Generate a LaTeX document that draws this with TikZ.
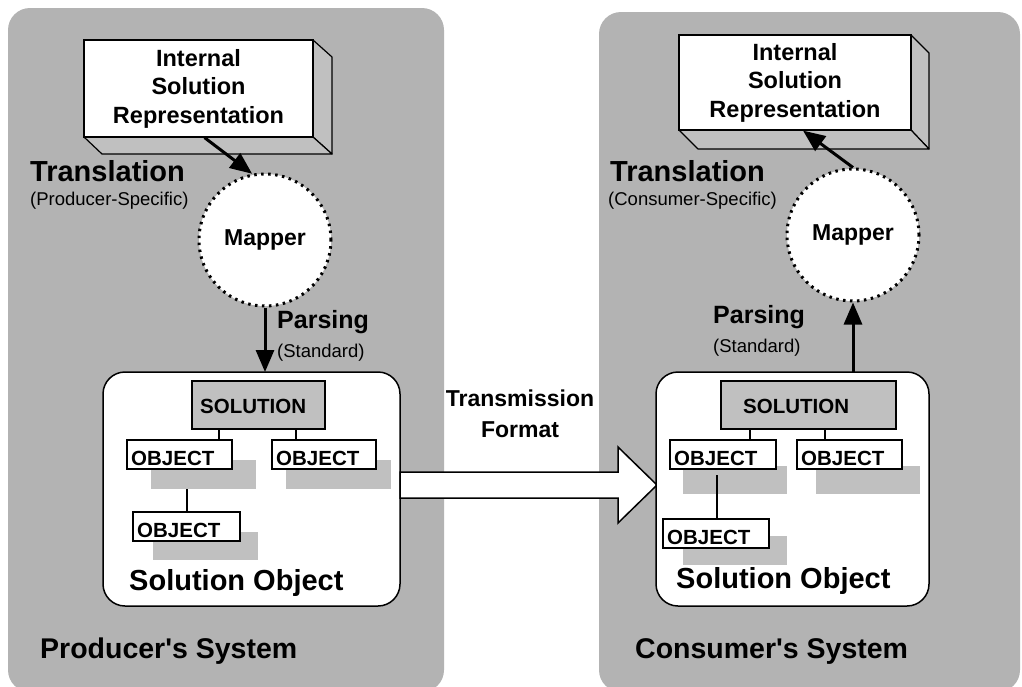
\documentclass[tikz,border=0pt]{standalone}
\usepackage{fontspec}
\setmainfont{Liberation Sans}[Ligatures=TeXOff]
\usetikzlibrary{arrows.meta}
\definecolor{panelgray}{HTML}{B3B3B3}
\definecolor{lightgray}{HTML}{C0C0C0}
\tikzset{
  panel/.style={fill=panelgray, draw=none, rounded corners=22pt},
  front/.style={draw, fill=white, line width=1.2pt, inner sep=0pt, align=center,
    font=\bfseries\fontsize{23.5}{28.5}\selectfont},
  side/.style={draw, fill=lightgray, line width=1.2pt, line join=round},
  mapper/.style={circle, fill=white, minimum size=132pt, inner sep=0pt,
    draw, line width=3pt, dash pattern=on 2.5pt off 4.5pt,
    font=\bfseries\fontsize{23}{27}\selectfont},
  bigarrow/.style={line width=3pt, -{Triangle[length=22pt,width=18pt]}},
  solbox/.style={draw, fill=white, line width=1.5pt, rounded corners=22pt},
  solnode/.style={draw, fill=lightgray, line width=1.2pt},
  objnode/.style={draw, fill=white, line width=1.2pt},
  shadow/.style={fill=lightgray, draw=none},
  tiny/.style={line width=1.2pt},
  txt/.style={inner sep=0pt, anchor=base west},
  big/.style={txt, font=\bfseries\fontsize{29}{34}\selectfont},
  mid/.style={txt, font=\bfseries\fontsize{25}{30}\selectfont},
  small/.style={txt, font=\fontsize{18.5}{22}\selectfont},
  boxlabel/.style={txt, font=\bfseries\fontsize{20.5}{24}\selectfont},
}
\begin{document}
\begin{tikzpicture}[x=1pt,y=-1pt]
\useasboundingbox (0,0) rectangle (1022,686);
\clip (0,0) rectangle (1022,686);
% panels
\fill[panel] (8,8) rectangle (444,692);
\fill[panel] (599,12) rectangle (1020,692);

% ---------- LEFT: Producer ----------
% 3D box
\draw[side] (313,40) -- (332,57) -- (332,154) -- (313,137) -- cycle;
\draw[side] (84,137) -- (313,137) -- (332,154) -- (102,154) -- cycle;
\node[front, minimum width=229pt, minimum height=97pt] (ibL) at (198.5,88.5)
  {Internal\\Solution\\Representation};
\node[big] (trL) at (30,181) {Translation};
\node[small] (trLs) at (30,205) {(Producer-Specific)};
\node[mapper] (mapL) at (265,240) {Mapper};
\draw[bigarrow] ([xshift=6pt]ibL.south) -- (mapL.101);
\node[mid] (paL) at (277,328) {Parsing};
\node[small] (paLs) at (277,357) {(Standard)};
% solution object
\draw[solbox] (103,372) rectangle (400,606);
\coordinate (solLtop) at (265,372);
\draw[bigarrow] (mapL.south) -- (solLtop);
\node[solnode, minimum width=133pt, minimum height=48pt] (solL) at (258.5,405) {};
\node[boxlabel] (solLt) at (200,413) {SOLUTION};
% objects
\fill[shadow] (151,460) rectangle (256,489);
\fill[shadow] (286,460) rectangle (391,489);
\fill[shadow] (153,532) rectangle (258,560);
\node[objnode, minimum width=105pt, minimum height=29pt] (o1L) at (179.5,454.5) {};
\node[objnode, minimum width=104pt, minimum height=29pt] (o2L) at (324,454.5) {};
\node[objnode, minimum width=107pt, minimum height=29pt] (o3L) at (186.5,526.5) {};
\node[boxlabel] at (131,465) {OBJECT};
\node[boxlabel] at (276,465) {OBJECT};
\node[boxlabel] at (137,537) {OBJECT};
\draw[tiny] (solL.south -| 219,0) -- (o1L.north -| 219,0);
\draw[tiny] (solL.south -| 296,0) -- (o2L.north -| 296,0);
\draw[tiny] (187,489) -- (o3L.north -| 187,0);
\node[big] (soL) at (129,590) {Solution Object};
\node[txt, font=\bfseries\fontsize{28.5}{34}\selectfont] (sysL) at (40,658) {Producer's System};

% ---------- Transmission arrow ----------
\filldraw[fill=white, draw=black, line width=1.5pt, line join=miter]
  (400,472) -- (618,472) -- (618,447) -- (657,485) -- (618,523) -- (618,498) -- (400,498) -- cycle;
\node[inner sep=0pt, align=center, font=\bfseries\fontsize{23}{31}\selectfont, anchor=base]
  (tf) at (520,437) {Transmission\\Format};

% ---------- RIGHT: Consumer ----------
\draw[side] (911,35) -- (929,53) -- (929,149) -- (911,130) -- cycle;
\draw[side] (679,130) -- (911,130) -- (929,149) -- (698,149) -- cycle;
\node[front, minimum width=232pt, minimum height=95pt] (ibR) at (795,82.5)
  {Internal\\Solution\\Representation};
\node[big] (trR) at (610,181) {Translation};
\node[small] (trRs) at (608,205) {(Consumer-Specific)};
\node[mapper] (mapR) at (853,235) {Mapper};
\draw[bigarrow] (mapR.north) -- ([xshift=8pt]ibR.south);
\node[mid] (paR) at (713,323) {Parsing};
\node[small] (paRs) at (713,352) {(Standard)};
\draw[solbox] (656,372) rectangle (929,606);
\coordinate (solRtop) at (853,372);
\draw[bigarrow] (solRtop) -- (mapR.south);
\node[solnode, minimum width=175pt, minimum height=48pt] (solR) at (808.5,405) {};
\node[boxlabel] (solRt) at (743,413) {SOLUTION};
\fill[shadow] (683,466) rectangle (787,494);
\fill[shadow] (816,466) rectangle (920,494);
\fill[shadow] (683,536) rectangle (787,565);
\node[objnode, minimum width=106pt, minimum height=29pt] (o1R) at (723,454.5) {};
\node[objnode, minimum width=105pt, minimum height=29pt] (o2R) at (849.5,454.5) {};
\node[objnode, minimum width=106pt, minimum height=29pt] (o3R) at (716,533.5) {};
\node[boxlabel] at (674,465) {OBJECT};
\node[boxlabel] at (801,465) {OBJECT};
\node[boxlabel] at (667,544) {OBJECT};
\draw[tiny] (solR.south -| 750,0) -- (o1R.north -| 750,0);
\draw[tiny] (solR.south -| 825,0) -- (o2R.north -| 825,0);
\draw[tiny] (717,475) -- (o3R.north -| 717,0);
\node[big] (soR) at (676,588) {Solution Object};
\node[txt, font=\bfseries\fontsize{28.5}{34}\selectfont] (sysR) at (635,658) {Consumer's System};
\end{tikzpicture}
\end{document}
